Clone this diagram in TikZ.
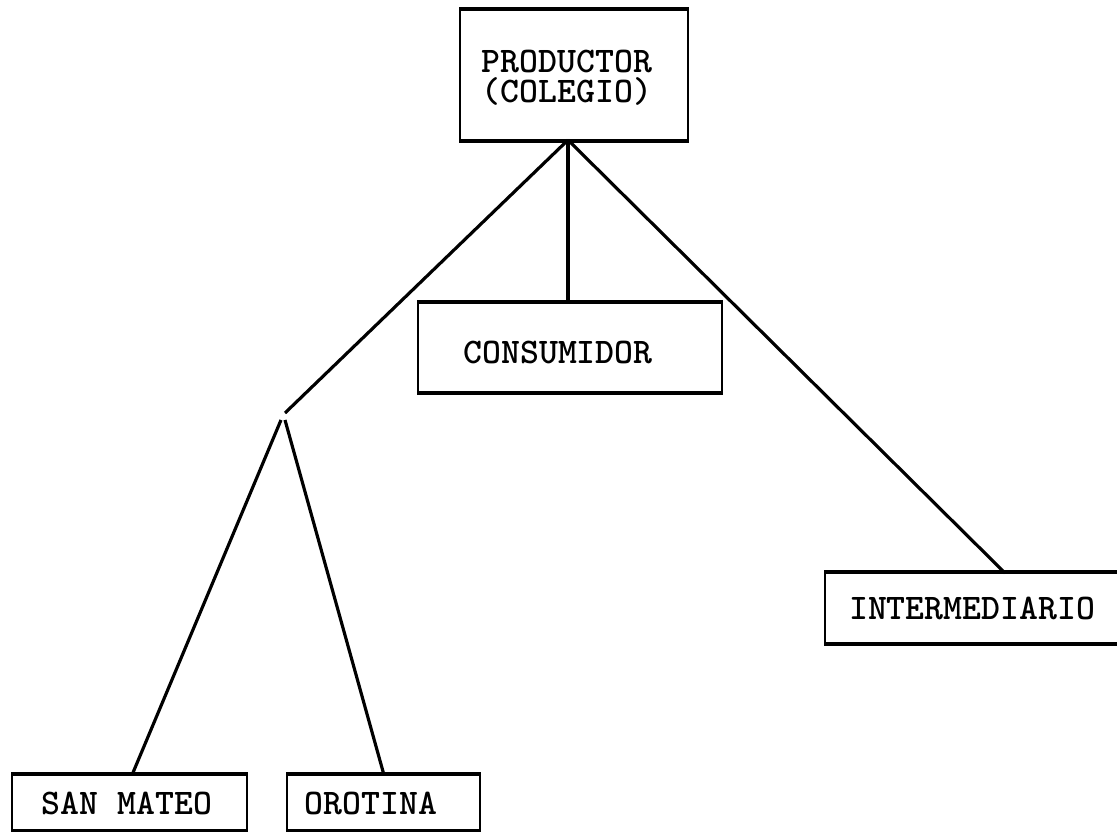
\documentclass[tikz,border=0pt]{standalone}
\usepackage{fontspec}
\begin{document}
\begin{tikzpicture}[x=0.02cm,y=-0.02cm,
  box/.style={draw=black, line width=1.1pt, rectangle, inner sep=0pt},
  label/.style={font=\ttfamily\bfseries\fontsize{20.5}{17}\selectfont, align=center, inner sep=0pt},
  rim/.style={line width=2pt},
  link/.style={line width=1.8pt}]
  \useasboundingbox (0,0) rectangle (1117,832);
  \clip (0,0) rectangle (1117,832);
  % boxes of the distribution channel
  \node[box, minimum width=228*0.02cm, minimum height=130*0.02cm] (prod) at (574,75) {};
  \node[label] (prodtxt) at (567,78) {PRODUCTOR\\(COLEGIO)};
  \node[box, minimum width=304*0.02cm, minimum height=89*0.02cm] (cons) at (570,347.5) {};
  \node[label] (constxt) at (558,352) {CONSUMIDOR};
  \node[box, minimum width=320*0.02cm, minimum height=70*0.02cm] (inter) at (985,608) {};
  \node[label] (intertxt) at (972,608) {INTERMEDIARIO};
  \node[box, minimum width=235*0.02cm, minimum height=55*0.02cm] (sm) at (129.5,802.5) {};
  \node[label] (smtxt) at (127,803) {SAN MATEO};
  \node[box, minimum width=193*0.02cm, minimum height=55*0.02cm] (oro) at (383.5,802.5) {};
  \node[label] (orotxt) at (371,803) {OROTINA};
  % heavier top and bottom rules of each box
  \foreach \b in {prod,cons,inter,sm,oro} {
    \draw[rim] (\b.north west) -- (\b.north east);
    \draw[rim] (\b.south west) -- (\b.south east);
  }
  % attachment points on the box edges
  \coordinate (ptop) at (568,140);
  \coordinate (j) at (285,413);
  \coordinate (itop) at (1005,573);
  \coordinate (smtop) at (132,775);
  \coordinate (orotop) at (384,775);
  % connectors
  \draw[link] (ptop) -- (j);
  \draw[link] (ptop) -- (ptop |- cons.north);
  \draw[link] (ptop) -- (itop);
  \draw[link] (j) ++(-4,7) -- (smtop);
  \draw[link] (j) ++(0,7) -- (orotop);
\end{tikzpicture}
\end{document}
